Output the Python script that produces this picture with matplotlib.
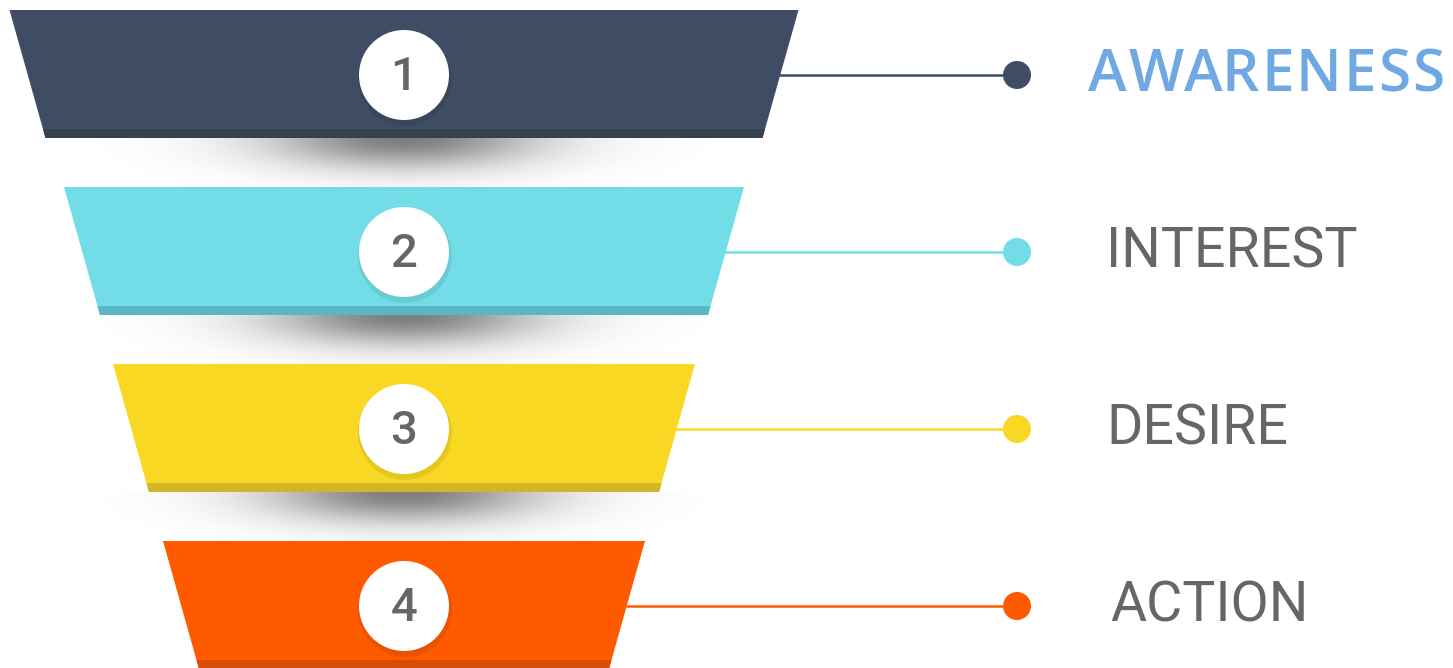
import numpy as np
import matplotlib
matplotlib.use("Agg")
import matplotlib.pyplot as plt
from matplotlib.patches import Polygon, Circle

# funnel data
stages = ["AWARENESS", "INTEREST", "DESIRE", "ACTION"]
numbers = ["1", "2", "3", "4"]
top_widths = [789, 680, 582, 482]
colors = ["#3e4d63", "#72dde7", "#f8d823", "#ff5a00"]
edge_colors = ["#34414f", "#5ab6c3", "#d2b424", "#d84c05"]
dot_colors = ["#3e4d63", "#72dde7", "#f8d823", "#ff5a00"]
label_colors = ["#6fa8e2", "#666666", "#666666", "#666666"]

W, H = 1453, 668
fig = plt.figure(figsize=(W / 100, H / 100), dpi=100)
ax = fig.add_axes([0, 0, 1, 1])
ax.set_xlim(0, W)
ax.set_ylim(H, 0)
ax.axis("off")
renderer = fig.canvas.get_renderer()

cx = 404
top0 = 10
step = 177
height = 128
taper = 36
dot_x = 1017
text_x = [1088, 1106, 1106, 1110]


def spaced_text(x, y, word, spacing, **kw):
    # draw a word letter by letter with extra tracking (in pixels)
    for k, ch in enumerate(word):
        if k > 0:
            probe = ax.text(0, 0, word[:k], **kw)
            w = probe.get_window_extent(renderer).width
            probe.remove()
        else:
            w = 0
        ax.text(x + w + k * spacing, y, ch, ha="left", va="baseline", **kw)


# soft shadow image used under each band
gx = np.linspace(-1, 1, 300)
gy = np.linspace(0, 1, 80)
X, Y = np.meshgrid(gx, gy)
alpha = np.exp(-(X / 0.4) ** 2) * np.exp(-(Y / 0.4) ** 2) * 0.65
shadow = np.zeros((80, 300, 4))
shadow[..., :3] = 0.22
shadow[..., 3] = alpha

for i, stage in enumerate(stages):
    top = top0 + i * step
    bot = top + height
    wt = top_widths[i]
    wb = wt - 2 * taper
    # shadow under band
    ax.imshow(shadow, extent=(cx - 340, cx + 340, bot + 75, bot), zorder=1,
              aspect="auto", interpolation="bilinear")
    band = Polygon([(cx - wt / 2, top), (cx + wt / 2, top),
                    (cx + wb / 2, bot), (cx - wb / 2, bot)],
                   closed=True, facecolor=colors[i], edgecolor="none", zorder=2)
    ax.add_patch(band)
    # darker lip at the bottom
    lip = 9
    t = (height - lip) / height
    ax.add_patch(Polygon([(cx - wt / 2 + taper * t, bot - lip), (cx + wt / 2 - taper * t, bot - lip),
                          (cx + wb / 2, bot), (cx - wb / 2, bot)],
                         closed=True, facecolor=edge_colors[i], edgecolor="none", zorder=3))

    cy = top + 65
    # circle with a faint shadow
    ax.add_patch(Circle((cx + 1, cy + 4), 47, facecolor="black", alpha=0.08, zorder=4))
    ax.add_patch(Circle((cx, cy), 45, facecolor="white", edgecolor="none", zorder=5))
    ax.text(cx, cy + 2, numbers[i], ha="center", va="center", fontsize=34,
            color="#666666", family="Roboto", fontweight="medium", zorder=6)

    # connector line from the right slanted edge to the dot
    frac = (cy - top) / height
    x_edge = cx + wt / 2 - taper * frac
    ax.plot([x_edge, dot_x], [cy, cy], color=dot_colors[i], lw=1.8, zorder=2.5)
    ax.add_patch(Circle((dot_x, cy), 14, facecolor=dot_colors[i], edgecolor="none", zorder=6))

    if i == 0:
        spaced_text(text_x[i], 91, stage, 2.0, fontsize=42, color=label_colors[i],
                    family="Open Sans", fontweight="semibold", zorder=6)
    else:
        ax.text(text_x[i], cy, stage, ha="left", va="center", fontsize=40,
                color=label_colors[i], family="Roboto", zorder=6)

fig.savefig("out.png", dpi=100, facecolor="white")
